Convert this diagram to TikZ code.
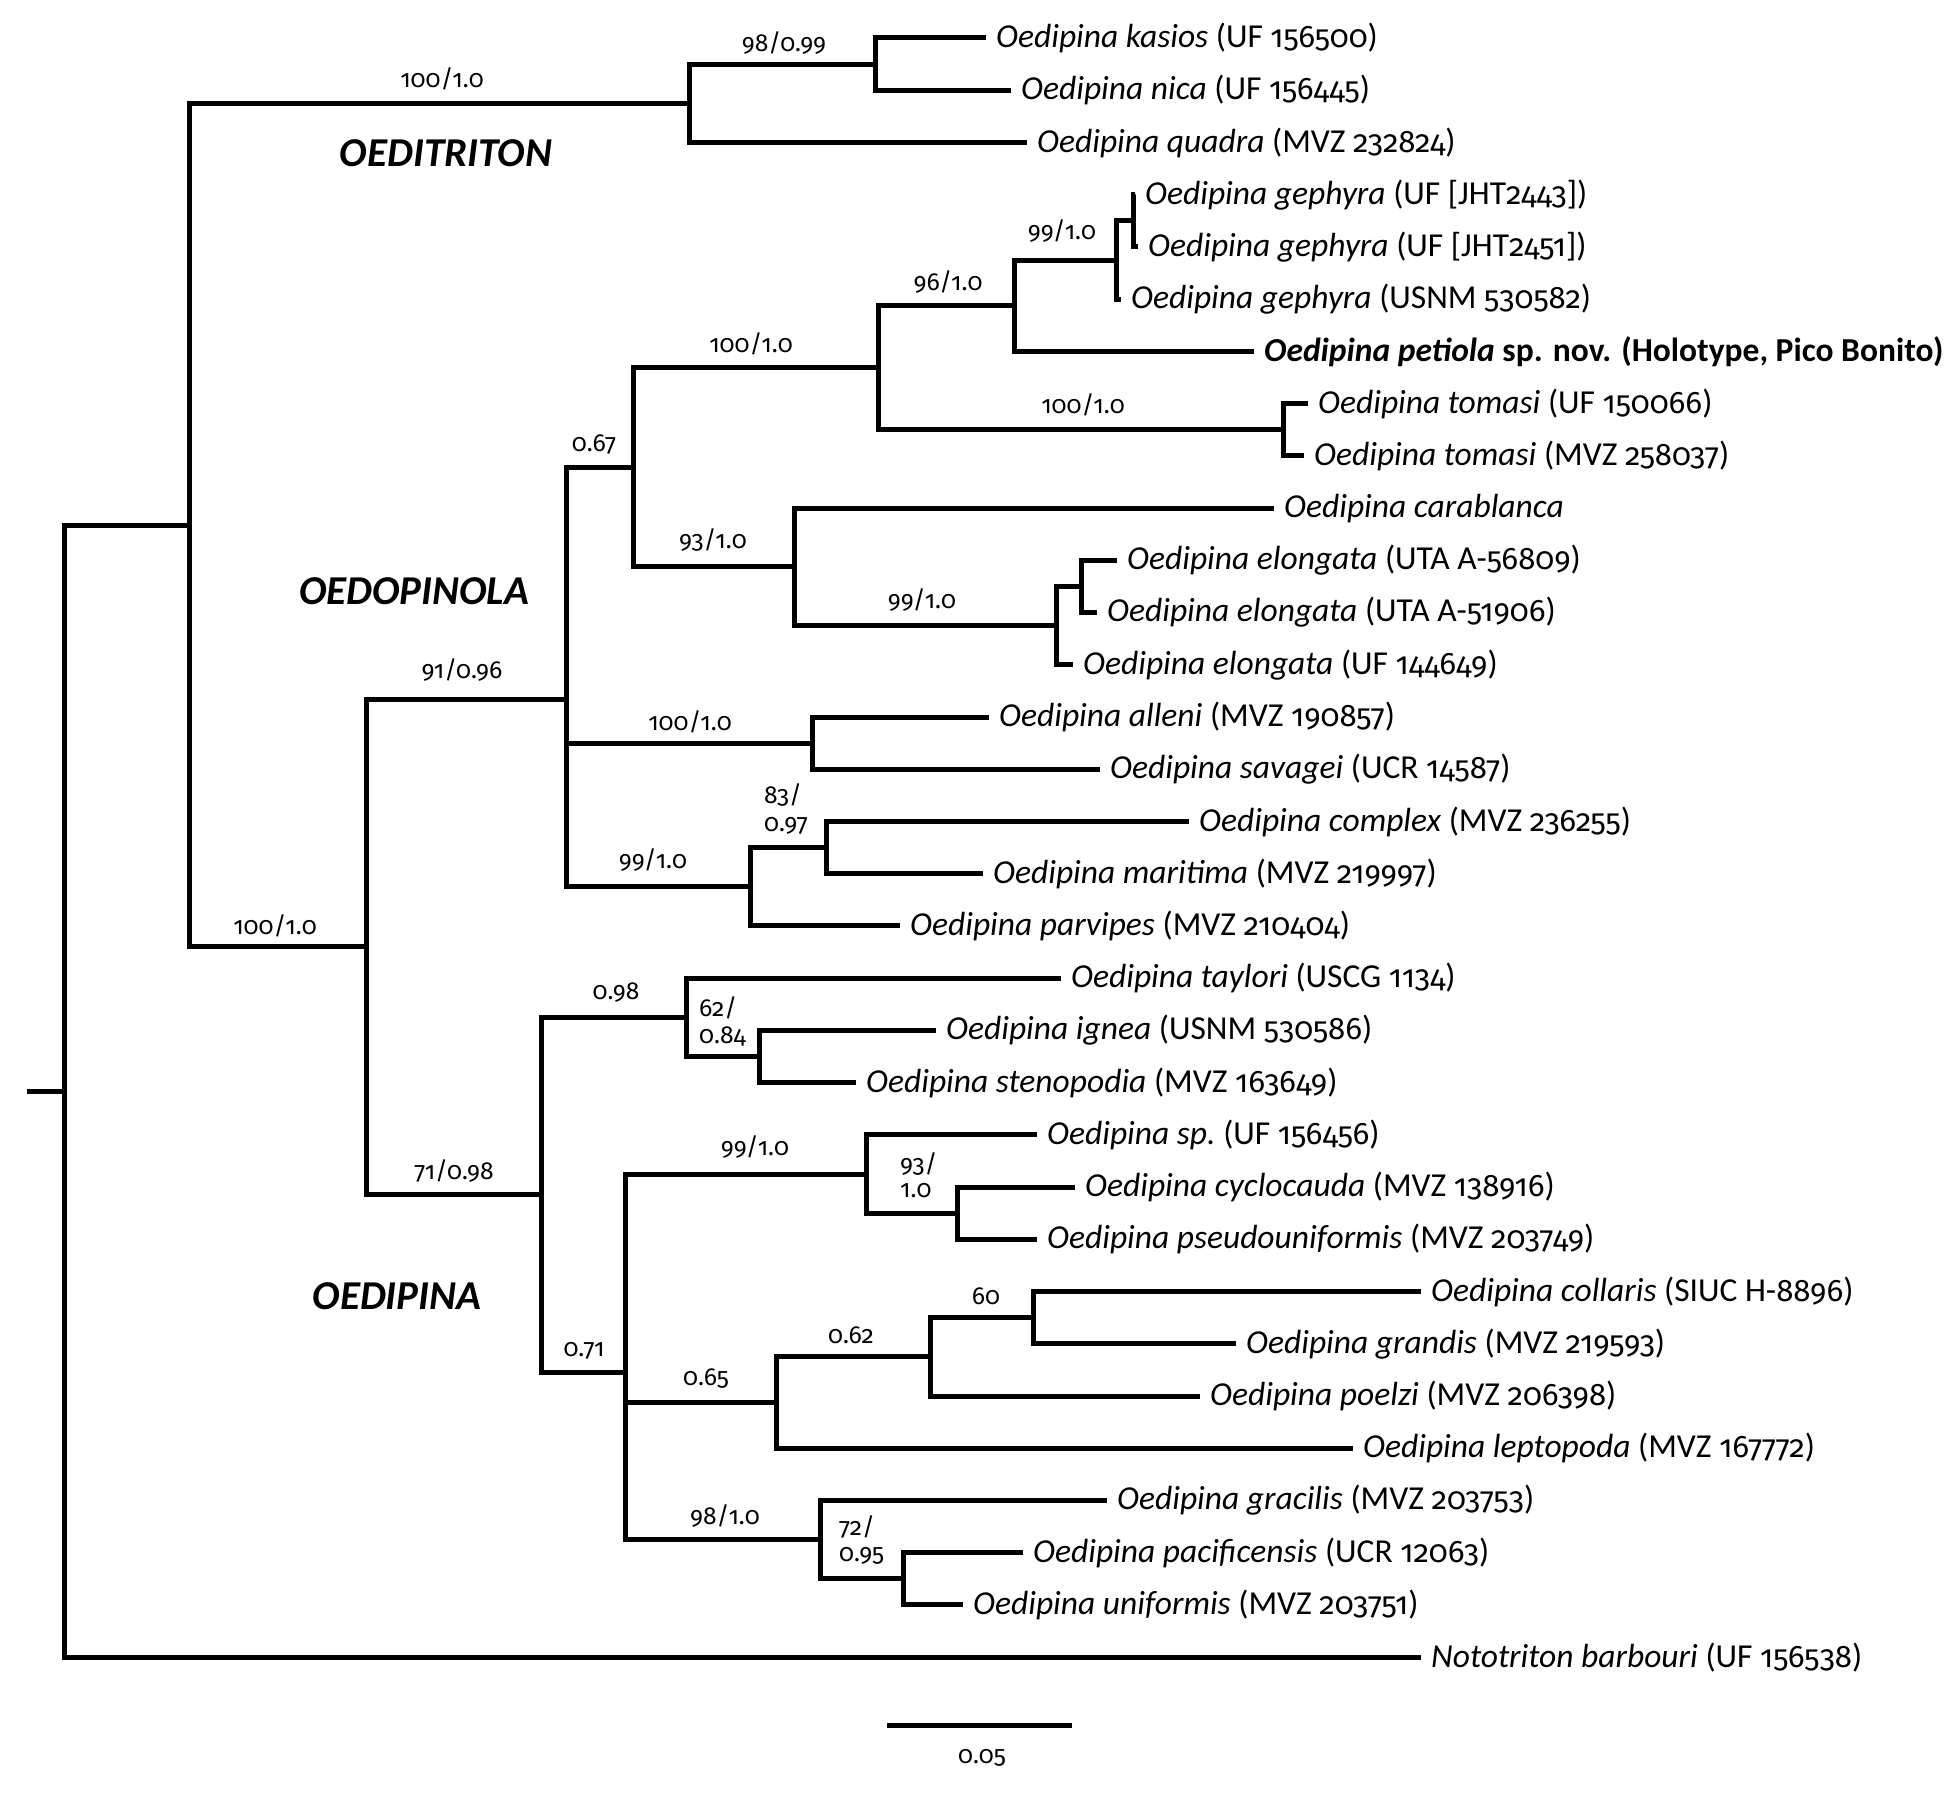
\documentclass[tikz,border=0pt]{standalone}
\usepackage{fontspec}
\setmainfont{Carlito}
\newfontfamily\figfont{Fira Sans}[Numbers=OldStyle, Scale=0.93]
\newcommand{\figs}[1]{{\figfont #1}}
\begin{document}
\begin{tikzpicture}[x=1pt,y=-1pt,
  br/.style={line width=5pt, line join=miter},
  taxon/.style={anchor=west, inner xsep=10pt, inner ysep=0pt, font=\fontsize{33.5}{35}\selectfont},
  supp/.style={inner sep=0pt, font=\fontsize{26.5}{28}\selectfont\figfont},
  suppl/.style={supp, anchor=west},
  clade/.style={inner sep=0pt, font=\fontsize{41}{43}\selectfont\bfseries\itshape}]
\useasboundingbox (0,0) rectangle (1960,1793);
% internal nodes
\coordinate (rs) at (27,1091.1);
\coordinate (r) at (64,1091.1);
\coordinate (u) at (189,525.1);
\coordinate (ot) at (689,103.3);
\coordinate (kn) at (875,64.1);
\coordinate (gen) at (366,946.9);
\coordinate (op) at (566,699.1);
\coordinate (n67) at (633,467.3);
\coordinate (n100) at (878,367.7);
\coordinate (gp) at (1014,305.7);
\coordinate (g) at (1116,260.0);
\coordinate (g12) at (1133,220.8);
\coordinate (tom) at (1283,429.7);
\coordinate (n93) at (794,566.8);
\coordinate (el) at (1056,625.6);
\coordinate (el12) at (1081,586.4);
\coordinate (as) at (812,743.1);
\coordinate (n99) at (750,886.8);
\coordinate (cm) at (826,847.6);
\coordinate (oe) at (541,1194.7);
\coordinate (n98t) at (686,1017.3);
\coordinate (is) at (759,1056.5);
\coordinate (n71) at (625,1372.0);
\coordinate (nsp) at (866,1174.0);
\coordinate (cp) at (957,1213.2);
\coordinate (n65) at (776,1402.5);
\coordinate (n62) at (930,1356.8);
\coordinate (n60) at (1033,1317.7);
\coordinate (n98g) at (820,1539.6);
\coordinate (pu) at (903,1578.8);
% leaf ends
\coordinate (L1) at (986,38.0);
\coordinate (L2) at (1011,90.2);
\coordinate (L3) at (1027,142.5);
\coordinate (L4) at (1135,194.7);
\coordinate (L5) at (1138,246.9);
\coordinate (L6) at (1121,299.2);
\coordinate (L7) at (1254,351.4);
\coordinate (L8) at (1308,403.6);
\coordinate (L9) at (1304,455.8);
\coordinate (L10) at (1274,508.1);
\coordinate (L11) at (1117,560.3);
\coordinate (L12) at (1097,612.5);
\coordinate (L13) at (1073,664.8);
\coordinate (L14) at (989,717.0);
\coordinate (L15) at (1100,769.2);
\coordinate (L16) at (1189,821.5);
\coordinate (L17) at (983,873.7);
\coordinate (L18) at (900,925.9);
\coordinate (L19) at (1061,978.1);
\coordinate (L20) at (936,1030.4);
\coordinate (L21) at (856,1082.6);
\coordinate (L22) at (1037,1134.8);
\coordinate (L23) at (1075,1187.1);
\coordinate (L24) at (1037,1239.3);
\coordinate (L25) at (1421,1291.5);
\coordinate (L26) at (1236,1343.8);
\coordinate (L27) at (1200,1396.0);
\coordinate (L28) at (1353,1448.2);
\coordinate (L29) at (1107,1500.4);
\coordinate (L30) at (1023,1552.7);
\coordinate (L31) at (963,1604.9);
\coordinate (L32) at (1421,1657.1);
% branches
\draw[br] (rs) -- (r);
\draw[br] (r) |- (u);
\draw[br] (r) |- (L32);
\draw[br] (u) |- (ot);
\draw[br] (u) |- (gen);
\draw[br] (ot) |- (kn);
\draw[br] (ot) |- (L3);
\draw[br] (kn) |- (L1);
\draw[br] (kn) |- (L2);
\draw[br] (gen) |- (op);
\draw[br] (gen) |- (oe);
\draw[br] (op) |- (n67);
\draw[br] (op) |- (as);
\draw[br] (op) |- (n99);
\draw[br] (n67) |- (n100);
\draw[br] (n67) |- (n93);
\draw[br] (n100) |- (gp);
\draw[br] (n100) |- (tom);
\draw[br] (gp) |- (g);
\draw[br] (gp) |- (L7);
\draw[br] (g) |- (g12);
\draw[br] (g) |- (L6);
\draw[br] (g12) |- (L4);
\draw[br] (g12) |- (L5);
\draw[br] (tom) |- (L8);
\draw[br] (tom) |- (L9);
\draw[br] (n93) |- (L10);
\draw[br] (n93) |- (el);
\draw[br] (el) |- (el12);
\draw[br] (el) |- (L13);
\draw[br] (el12) |- (L11);
\draw[br] (el12) |- (L12);
\draw[br] (as) |- (L14);
\draw[br] (as) |- (L15);
\draw[br] (n99) |- (cm);
\draw[br] (n99) |- (L18);
\draw[br] (cm) |- (L16);
\draw[br] (cm) |- (L17);
\draw[br] (oe) |- (n98t);
\draw[br] (oe) |- (n71);
\draw[br] (n98t) |- (L19);
\draw[br] (n98t) |- (is);
\draw[br] (is) |- (L20);
\draw[br] (is) |- (L21);
\draw[br] (n71) |- (nsp);
\draw[br] (n71) |- (n65);
\draw[br] (n71) |- (n98g);
\draw[br] (nsp) |- (L22);
\draw[br] (nsp) |- (cp);
\draw[br] (cp) |- (L23);
\draw[br] (cp) |- (L24);
\draw[br] (n65) |- (n62);
\draw[br] (n65) |- (L28);
\draw[br] (n62) |- (n60);
\draw[br] (n62) |- (L27);
\draw[br] (n60) |- (L25);
\draw[br] (n60) |- (L26);
\draw[br] (n98g) |- (L29);
\draw[br] (n98g) |- (pu);
\draw[br] (pu) |- (L30);
\draw[br] (pu) |- (L31);
% taxon labels
\node[taxon] (t1) at (L1) {\textit{Oedipina kasios} (UF \figs{156500})};
\node[taxon] (t2) at (L2) {\textit{Oedipina nica} (UF \figs{156445})};
\node[taxon] (t3) at (L3) {\textit{Oedipina quadra} (MVZ \figs{232824})};
\node[taxon] (t4) at (L4) {\textit{Oedipina gephyra} (UF [JHT\figs{2443}])};
\node[taxon] (t5) at (L5) {\textit{Oedipina gephyra} (UF [JHT\figs{2451}])};
\node[taxon] (t6) at (L6) {\textit{Oedipina gephyra} (USNM \figs{530582})};
\node[taxon] (t7) at (L7) {\bfseries\textit{Oedipina petiola} sp. nov. (Holotype, Pico Bonito)};
\node[taxon] (t8) at (L8) {\textit{Oedipina tomasi} (UF \figs{150066})};
\node[taxon] (t9) at (L9) {\textit{Oedipina tomasi} (MVZ \figs{258037})};
\node[taxon] (t10) at (L10) {\textit{Oedipina carablanca}};
\node[taxon] (t11) at (L11) {\textit{Oedipina elongata} (UTA A-\figs{56809})};
\node[taxon] (t12) at (L12) {\textit{Oedipina elongata} (UTA A-\figs{51906})};
\node[taxon] (t13) at (L13) {\textit{Oedipina elongata} (UF \figs{144649})};
\node[taxon] (t14) at (L14) {\textit{Oedipina alleni} (MVZ \figs{190857})};
\node[taxon] (t15) at (L15) {\textit{Oedipina savagei} (UCR \figs{14587})};
\node[taxon] (t16) at (L16) {\textit{Oedipina complex} (MVZ \figs{236255})};
\node[taxon] (t17) at (L17) {\textit{Oedipina maritima} (MVZ \figs{219997})};
\node[taxon] (t18) at (L18) {\textit{Oedipina parvipes} (MVZ \figs{210404})};
\node[taxon] (t19) at (L19) {\textit{Oedipina taylori} (USCG \figs{1134})};
\node[taxon] (t20) at (L20) {\textit{Oedipina ignea} (USNM \figs{530586})};
\node[taxon] (t21) at (L21) {\textit{Oedipina stenopodia} (MVZ \figs{163649})};
\node[taxon] (t22) at (L22) {\textit{Oedipina sp.}\ (UF \figs{156456})};
\node[taxon] (t23) at (L23) {\textit{Oedipina cyclocauda} (MVZ \figs{138916})};
\node[taxon] (t24) at (L24) {\textit{Oedipina pseudouniformis} (MVZ \figs{203749})};
\node[taxon] (t25) at (L25) {\textit{Oedipina collaris} (SIUC H-\figs{8896})};
\node[taxon] (t26) at (L26) {\textit{Oedipina grandis} (MVZ \figs{219593})};
\node[taxon] (t27) at (L27) {\textit{Oedipina poelzi} (MVZ \figs{206398})};
\node[taxon] (t28) at (L28) {\textit{Oedipina leptopoda} (MVZ \figs{167772})};
\node[taxon] (t29) at (L29) {\textit{Oedipina gracilis} (MVZ \figs{203753})};
\node[taxon] (t30) at (L30) {\textit{Oedipina pacificensis} (UCR \figs{12063})};
\node[taxon] (t31) at (L31) {\textit{Oedipina uniformis} (MVZ \figs{203751})};
\node[taxon] (t32) at (L32) {\textit{Nototriton barbouri} (UF \figs{156538})};
% clade names
\node[clade] (c1) at (446,153) {OEDITRITON};
\node[clade] (c2) at (414,591) {OEDOPINOLA};
\node[clade] (c3) at (397,1296) {OEDIPINA};
% support values
\node[supp] (s1) at (442,79) {100/1.0};
\node[supp] (s2) at (784,43) {98/0.99};
\node[supp] (s3) at (1062,231) {99/1.0};
\node[supp] (s4) at (948,282) {96/1.0};
\node[supp] (s5) at (751,344) {100/1.0};
\node[supp] (s6) at (1083,405) {100/1.0};
\node[supp] (s7) at (594,445) {0.67};
\node[supp] (s8) at (713,540) {93/1.0};
\node[supp] (s9) at (922,600) {99/1.0};
\node[supp] (s10) at (462,670) {91/0.96};
\node[supp] (s11) at (690,722) {100/1.0};
\node[suppl] (s12a) at (764,795) {83/};
\node[suppl] (s12b) at (764,826) {0.97};
\node[supp] (s13) at (653,860) {99/1.0};
\node[supp] (s14) at (275,926) {100/1.0};
\node[supp] (s15) at (616,993) {0.98};
\node[suppl] (s16a) at (699,1008) {62/};
\node[suppl] (s16b) at (699,1036) {0.84};
\node[supp] (s17) at (755,1147) {99/1.0};
\node[suppl] (s18a) at (900,1164) {93/};
\node[suppl] (s18b) at (900,1191) {1.0};
\node[supp] (s19) at (454,1171) {71/0.98};
\node[supp] (s20) at (584,1351) {0.71};
\node[supp] (s21) at (986,1296) {60};
\node[supp] (s22) at (851,1335) {0.62};
\node[supp] (s23) at (706,1379) {0.65};
\node[supp] (s24) at (725,1516) {98/1.0};
\node[suppl] (s25a) at (839,1527) {72/};
\node[suppl] (s25b) at (839,1556) {0.95};
% scale bar
\coordinate (sb1) at (887,1725);
\coordinate (sb2) at (1072,1725);
\draw[br] (sb1) -- (sb2);
\node[supp] (sbl) at (982,1758) {0.05};
\end{tikzpicture}
\end{document}
